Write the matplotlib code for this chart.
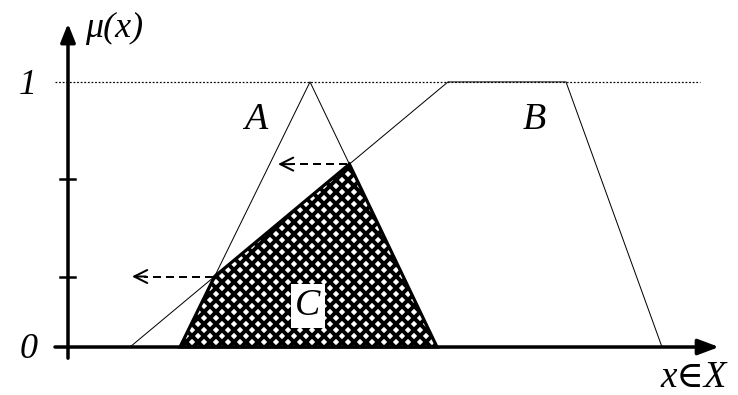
import numpy as np
import matplotlib
matplotlib.use("Agg")
from matplotlib import pyplot as plt
from matplotlib.patches import Polygon

# fuzzy sets: breakpoints on the universe X, membership values
a_x = [180, 310, 437]
a_mu = [0, 1, 0]
b_x = [130, 448, 566, 662]
b_mu = [0, 1, 1, 0]
tick_mu = [0.634, 0.264]   # extra marks on the mu axis


def cross(p1, p2, q1, q2):
    # intersection of segment p1-p2 with q1-q2 (as infinite lines)
    (x1, y1), (x2, y2) = p1, p2
    (x3, y3), (x4, y4) = q1, q2
    d = (x1 - x2) * (y3 - y4) - (y1 - y2) * (x3 - x4)
    t = ((x1 - x3) * (y3 - y4) - (y1 - y3) * (x3 - x4)) / d
    return x1 + t * (x2 - x1), y1 + t * (y2 - y1)


A = list(zip(a_x, a_mu))
B = list(zip(b_x, b_mu))
lo = cross(A[0], A[1], B[0], B[1])
hi = cross(A[1], A[2], B[0], B[1])
c_pts = [A[0], lo, hi, A[2]]

plt.rcParams['hatch.linewidth'] = 4.0
serif = ['Liberation Serif', 'DejaVu Serif']

fig = plt.figure(figsize=(738 / 72, 395 / 72), dpi=72)
ax = fig.add_axes([0, 0, 1, 1])
ax.set_xlim(0, 738)
ax.set_ylim(-0.181, 1.309)
ax.axis('off')

# dotted level 1
ax.plot([55, 700], [1, 1], color='black', ls=(0, (1.5, 1.5)), lw=1.2)

# C = A and B
ax.add_patch(Polygon(c_pts, closed=True, facecolor='white', edgecolor='black',
                     hatch='xx', lw=3.2, zorder=2))

ax.plot(a_x, a_mu, color='black', lw=1, zorder=3)
ax.plot(b_x, b_mu, color='black', lw=1, zorder=3)

# axes with arrows
ax.annotate('', xy=(68, 1.22), xytext=(68, -0.042),
            arrowprops=dict(arrowstyle='-|>,head_length=0.7,head_width=0.28',
                            lw=3.5, color='black', mutation_scale=22,
                            shrinkA=0, shrinkB=0), zorder=5)
ax.annotate('', xy=(719, 0), xytext=(55, 0),
            arrowprops=dict(arrowstyle='-|>,head_length=0.8,head_width=0.3',
                            lw=3.5, color='black', mutation_scale=22,
                            shrinkA=0, shrinkB=0), zorder=5)
for t in tick_mu:
    ax.plot([60, 75], [t, t], color='black', lw=2.5, zorder=5)

# dashed projections, solid arrow heads
for (px, py), tip in [(hi, 278), (lo, 132)]:
    ax.plot([px - 2, tip + 12], [py, py], color='black', lw=2,
            ls=(0, (4, 2.5)))
    ax.annotate('', xy=(tip, py), xytext=(tip + 14, py),
                arrowprops=dict(arrowstyle='->,head_length=0.5,head_width=0.25',
                                lw=2, color='black',
                                mutation_scale=26, shrinkA=0, shrinkB=0))

txt = dict(family=serif, style='italic', ha='center', va='center')
ax.text(256, 0.857, 'A', fontsize=38, **txt)
ax.text(534, 0.857, 'B', fontsize=38, **txt)
ax.text(308, 0.155, 'C', fontsize=38, zorder=6,
        bbox=dict(boxstyle='square,pad=0.12', fc='white', ec='none'), **txt)
ax.text(114, 1.2, '\u03bc(x)', fontsize=36, **txt)
ax.text(28, 0.985, '1', fontsize=36, **txt)
ax.text(29, -0.008, '0', fontsize=36, **txt)
ax.text(694, -0.117, 'x\u2208X', fontsize=37, **txt)

fig.savefig('out.png', dpi=72)
